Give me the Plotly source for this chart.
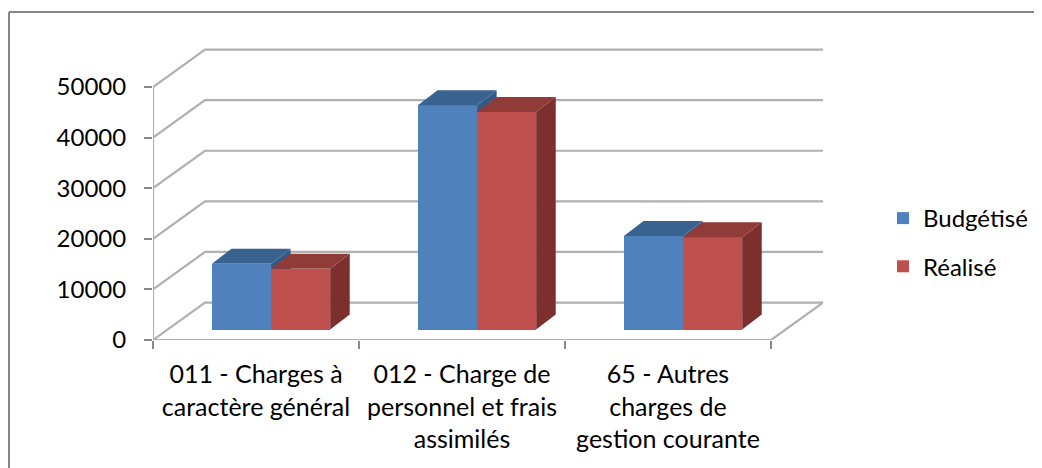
import plotly.graph_objects as go

# ---- data ----
categories = ["011 - Charges à<br>caractère général",
              "012 - Charge de<br>personnel et frais<br>assimilés",
              "65 - Autres<br>charges de<br>gestion courante"]
budgetise = [13000, 44300, 18500]
realise = [12000, 43000, 18250]
y_ticks = [0, 10000, 20000, 30000, 40000, 50000]

# ---- pseudo 3D projection, in axis units ----
WALL_DX, WALL_DY = 0.2524, 7400      # depth of the floor / back wall
FLOOR_DX, FLOOR_DY = 0.073, 2075     # front of the columns sits this far in
BAR_DX, BAR_DY = 0.095, 2960         # depth of a column
BAR_W = 0.287

BLUE, BLUE_TOP, BLUE_SIDE = "#4f81bd", "#3a6291", "#325a85"
RED, RED_TOP, RED_SIDE = "#c0504d", "#913b39", "#7c2f2d"
GRID = "#b0b0b0"

fig = go.Figure()


def line(xs, ys, color=GRID, width=2.2):
    fig.add_trace(go.Scatter(x=xs, y=ys, mode="lines", showlegend=False, hoverinfo="skip",
                             line=dict(color=color, width=width)))


def poly(xs, ys, color, xa, ya):
    fig.add_trace(go.Scatter(x=xs, y=ys, xaxis=xa, yaxis=ya, mode="lines", fill="toself",
                             fillcolor=color, line=dict(color=color, width=0),
                             showlegend=False, hoverinfo="skip"))


n = len(categories)
# walls: gridlines on side wall + back wall
for t in y_ticks:
    line([0, WALL_DX, n + WALL_DX], [t, t + WALL_DY, t + WALL_DY])
line([0, 0], [y_ticks[0], y_ticks[-1]])
line([0, n, n + WALL_DX], [0, 0, WALL_DY])

# columns: each series has its own overlaid subplot so that it stacks in depth order
for series, name, front, top, side, shift, xa, ya in [
    (budgetise, "Budgétisé", BLUE, BLUE_TOP, BLUE_SIDE, 0.0, "x2", "y2"),
    (realise, "Réalisé", RED, RED_TOP, RED_SIDE, BAR_W, "x3", "y3"),
]:
    xs, bases, heights = [], [], []
    for i, v in enumerate(series):
        left = i + 0.5 + FLOOR_DX - BAR_W + shift
        right = left + BAR_W
        yb = FLOOR_DY
        yt = v + FLOOR_DY
        poly([right, right + BAR_DX, right + BAR_DX, right],
             [yb, yb + BAR_DY, yt + BAR_DY, yt], side, xa, ya)
        poly([left, left + BAR_DX, right + BAR_DX, right],
             [yt, yt + BAR_DY, yt + BAR_DY, yt], top, xa, ya)
        xs.append(left + BAR_W / 2)
        bases.append(yb)
        heights.append(v)
    fig.add_trace(go.Bar(x=xs, y=heights, base=bases, width=BAR_W, name=name, xaxis=xa, yaxis=ya,
                         legendgroup=name, marker=dict(color=front, line=dict(width=0))))

# page coordinates of the drawing (the page body adds 8 px around the figure)
BODY = 8
W, H = 1042, 468
PLOT_L, PLOT_R, PLOT_T, PLOT_B = 153 - BODY, 823 - BODY, 48 - BODY, 340 - BODY
PW, PH = PLOT_R - PLOT_L, PLOT_B - PLOT_T
X_RANGE = [0, n + WALL_DX]
Y_RANGE = [0, 292 / 253 * 50000]

overlay = dict(range=X_RANGE, visible=False)
overlay_y = dict(range=Y_RANGE, visible=False)

fig.update_layout(
    width=W, height=H,
    margin=dict(l=PLOT_L, r=W - PLOT_R, t=PLOT_T, b=H - PLOT_B, autoexpand=False),
    paper_bgcolor="white", plot_bgcolor="white",
    font=dict(family="Lato, Carlito, sans-serif", size=24, color="black"),
    bargap=0, barmode="overlay",
    showlegend=True,
    legend=dict(x=(883 - BODY - PLOT_L) / PW, y=(PLOT_B - (196 - BODY)) / PH,
                xanchor="left", yanchor="top", bgcolor="rgba(0,0,0,0)",
                font=dict(size=24), itemwidth=30, tracegroupgap=14),
    xaxis=dict(range=X_RANGE, tickmode="array",
               tickvals=[i + 0.5 for i in range(n)], ticktext=categories,
               ticks="", showgrid=False, zeroline=False, showline=False, tickangle=0,
               ticklabelstandoff=17, tickfont=dict(size=25),
               minor=dict(tickmode="array", tickvals=list(range(n + 1)), ticks="outside",
                          ticklen=8, tickcolor="#888888", tickwidth=2, showgrid=False)),
    yaxis=dict(range=Y_RANGE, tickmode="array", tickvals=y_ticks,
               ticktext=[str(t) for t in y_ticks], ticks="outside", ticklen=8,
               ticklabelstandoff=13,
               tickcolor="#888888", tickwidth=2, showgrid=False, zeroline=False, showline=False),
    xaxis2=dict(overlay, overlaying="x", anchor="y2"),
    yaxis2=dict(overlay_y, overlaying="y", anchor="x2"),
    xaxis3=dict(overlay, overlaying="x", anchor="y3"),
    yaxis3=dict(overlay_y, overlaying="y", anchor="x3"),
    shapes=[
        dict(type="line", xref="paper", yref="paper",
             x0=(9 - BODY - PLOT_L) / PW, x1=(W - PLOT_L) / PW,
             y0=(PLOT_B - (12 - BODY)) / PH, y1=(PLOT_B - (12 - BODY)) / PH,
             line=dict(color="#868686", width=2), layer="below"),
        dict(type="line", xref="paper", yref="paper",
             x0=(9 - BODY - PLOT_L) / PW, x1=(9 - BODY - PLOT_L) / PW,
             y0=(PLOT_B - H) / PH, y1=(PLOT_B - (12 - BODY)) / PH,
             line=dict(color="#868686", width=2), layer="below"),
    ],
)

fig.write_html("out.html")
